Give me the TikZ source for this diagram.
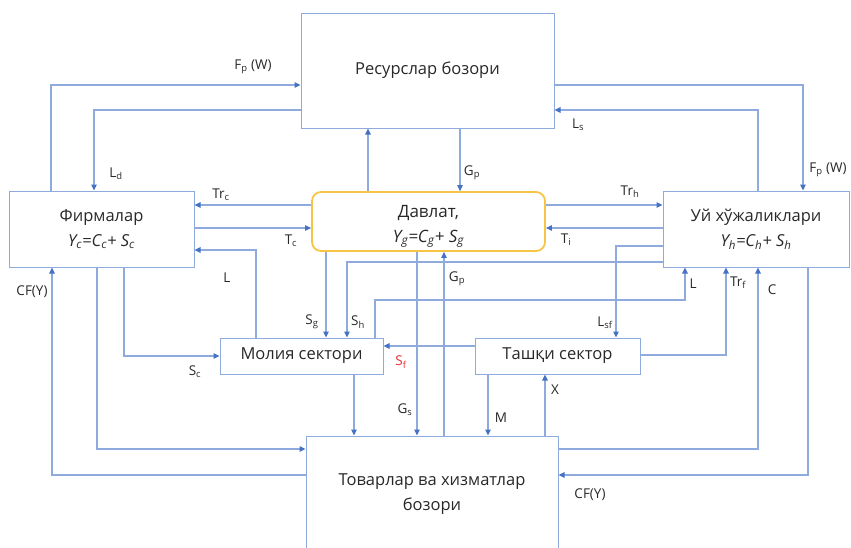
\documentclass[tikz,border=0pt]{standalone}
\usepackage{fontspec}
\setmainfont{Open Sans}
\usetikzlibrary{arrows.meta,positioning}
\definecolor{lineBlue}{RGB}{143,170,220}
\definecolor{tipBlue}{RGB}{68,114,196}
\definecolor{govGold}{RGB}{248,196,70}
\definecolor{textGray}{RGB}{40,40,40}
\definecolor{sfRed}{RGB}{235,45,45}

\begin{document}
\begin{tikzpicture}[x=1pt,y=-1pt,>={Triangle[length=6pt,width=5.5pt,color=tipBlue]},align=center]
    \tikzset{
        sector/.style={
            draw=lineBlue,
            line width=1pt,
            text=textGray,
            font=\fontsize{16.5}{25}\selectfont,
            inner sep=0pt
        },
        flow/.style={->, draw=lineBlue, line width=1.1pt},
        lbl/.style={text=textGray, font=\fontsize{13.5}{15}\selectfont, inner sep=0pt}
    }
    \useasboundingbox (0,0) rectangle (851,547);
    \clip (0,0) rectangle (851,547);

    % Markets
    \node[sector, minimum width=253pt, minimum height=115pt] (res) at (427.5,70.5) {Ресурслар бозори};
    \node[sector, minimum width=252pt, minimum height=116pt] (goods) at (432,494) {Товарлар ва хизматлар\\бозори};

    % Sectors
    \node[sector, minimum width=185pt, minimum height=76pt] (firms) at (101.5,229)
        {Фирмалар\\\textit{Y\textsubscript{c}=C\textsubscript{c}+ S\textsubscript{c}}};
    \node[sector, draw=govGold, line width=1.8pt, rounded corners=9pt,
        minimum width=233pt, minimum height=59pt, font=\fontsize{17}{25}\selectfont] (gov) at (428.5,221.5)
        {\rule{0pt}{22pt}Давлат,\\\textit{Y\textsubscript{g}=C\textsubscript{g}+ S\textsubscript{g}}};
    \node[sector, minimum width=186pt, minimum height=76pt] (hh) at (756,229)
        {Уй хўжаликлари\\\textit{Y\textsubscript{h}=C\textsubscript{h}+ S\textsubscript{h}}};
    \node[sector, minimum width=163pt, minimum height=36pt] (fin) at (301.5,356) {Молия сектори};
    \node[sector, minimum width=165pt, minimum height=36pt] (ext) at (557.5,356) {Ташқи сектор};

    % Bend points and line positions
    \coordinate (fpwL) at (51,85);
    \coordinate (ld) at (94,110);
    \coordinate (fpwR) at (803,85);
    \coordinate (ls) at (758,110);
    \coordinate (gr) at (368,0);
    \coordinate (gpU) at (460,0);
    \coordinate (trc) at (0,205);
    \coordinate (tc) at (0,228);
    \coordinate (lF) at (256,250);
    \coordinate (sc) at (124,356);
    \coordinate (fg) at (97,449);
    \coordinate (cfL) at (52,475);
    \coordinate (sg) at (326,0);
    \coordinate (sh) at (347,262);
    \coordinate (gs) at (417,0);
    \coordinate (gpD) at (444,0);
    \coordinate (lHa) at (375,300);
    \coordinate (lHb) at (685,300);
    \coordinate (lsf) at (616,246);
    \coordinate (trf) at (726,355);
    \coordinate (cc) at (758,449);
    \coordinate (cfR) at (808,475);
    \coordinate (sf) at (0,346);
    \coordinate (fgd) at (354,0);
    \coordinate (mm) at (488,0);
    \coordinate (xx) at (545,0);

    % Resource market
    \draw[flow] (firms.north -| fpwL) |- (res.west |- fpwL)
        node[lbl] (lFpwL) at (253,67) {F\textsubscript{p} (W)};
    \draw[flow] (res.west |- ld) -| (firms.north -| ld)
        node[lbl] (lLd) at (116,174) {L\textsubscript{d}};
    \draw[flow] (res.east |- fpwR) -| (hh.north -| fpwR)
        node[lbl] (lFpwR) at (828,170) {F\textsubscript{p} (W)};
    \draw[flow] (hh.north -| ls) |- (res.east |- ls)
        node[lbl] (lLs) at (578,125) {L\textsubscript{s}};
    \draw[flow] (gov.north -| gr) -- (res.south -| gr);
    \draw[flow] (res.south -| gpU) -- (gov.north -| gpU)
        node[lbl] (lGpU) at (472,173) {G\textsubscript{p}};

    % Government
    \draw[flow] (gov.west |- trc) -- (firms.east |- trc)
        node[lbl] (lTrc) at (221,195) {Tr\textsubscript{c}};
    \draw[flow] (firms.east |- tc) -- (gov.west |- tc)
        node[lbl] (lTc) at (291,241) {T\textsubscript{c}};
    \draw[flow] (gov.east |- trc) -- (hh.west |- trc)
        node[lbl] (lTrh) at (630,192) {Tr\textsubscript{h}};
    \draw[flow] (hh.west |- tc) -- (gov.east |- tc)
        node[lbl] (lTi) at (566,240) {T\textsubscript{i}};
    \draw[flow] (gov.south -| sg) -- (fin.north -| sg)
        node[lbl] (lSg) at (312,322) {S\textsubscript{g}};
    \draw[flow] (gov.south -| gs) -- (goods.north -| gs)
        node[lbl] (lGs) at (405,410) {G\textsubscript{s}};
    \draw[flow] (goods.north -| gpD) -- (gov.south -| gpD)
        node[lbl] (lGpD) at (457,279) {G\textsubscript{p}};

    % Firms
    \draw[flow] (fin.north -| lF) |- (firms.east |- lF)
        node[lbl] (lL) at (227,278) {L};
    \draw[flow] (firms.south -| sc) |- (fin.west |- sc)
        node[lbl] (lSc) at (195,372) {S\textsubscript{c}};
    \draw[flow] (firms.south -| fg) |- (goods.west |- fg);
    \draw[flow] (goods.west |- cfL) -| (firms.south -| cfL)
        node[lbl] (lCfL) at (32,292) {CF(Y)};

    % Households
    \draw[flow] (hh.west |- sh) -| (fin.north -| sh)
        node[lbl] (lSh) at (358,322) {S\textsubscript{h}};
    \draw[flow] (fin.north -| lHa) -- (lHa) -- (lHb) -- (hh.south -| lHb)
        node[lbl] (lLh) at (693,284) {L};
    \draw[flow] (hh.west |- lsf) -| (ext.north -| lsf)
        node[lbl] (lLsf) at (605,323) {L\textsubscript{sf}};
    \draw[flow] (ext.east |- trf) -| (hh.south -| trf)
        node[lbl] (lTrf) at (738,283) {Tr\textsubscript{f}};
    \draw[flow] (goods.east |- cc) -| (hh.south -| cc)
        node[lbl] (lC) at (772,290) {C};
    \draw[flow] (hh.south -| cfR) |- (goods.east |- cfR)
        node[lbl] (lCfR) at (590,495) {CF(Y)};

    % Financial and external sectors
    \draw[flow] (ext.west |- sf) -- (fin.east |- sf)
        node[lbl, text=sfRed] (lSf) at (401,362) {S\textsubscript{f}};
    \draw[flow] (fin.south -| fgd) -- (goods.north -| fgd);
    \draw[flow] (ext.south -| mm) -- (goods.north -| mm)
        node[lbl] (lM) at (501,418) {M};
    \draw[flow] (goods.north -| xx) -- (ext.south -| xx)
        node[lbl] (lX) at (555,390) {X};
\end{tikzpicture}
\end{document}
